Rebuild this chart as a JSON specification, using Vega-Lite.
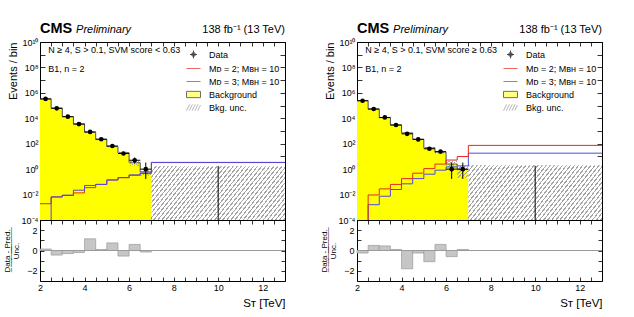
{
"$schema": "https://vega.github.io/schema/vega-lite/v6.json",
"padding": {"left": 3, "top": 20, "right": 5, "bottom": 5},
"background": "white",
"datasets": {
"L": [
{"x0":2,"x1":2.5,"c":2.25,"data":335000,"dlo":334400,"dhi":335600,"bkg":330000,"ulo":300000,"uhi":360000,"sig2":0.0019,"sig3":0.000001,"pull":0.15},
{"x0":2.5,"x1":3,"c":2.75,"data":61000,"dlo":60750,"dhi":61250,"bkg":63000,"ulo":57500,"uhi":68500,"sig2":0.0065,"sig3":0.0065,"pull":-0.45},
{"x0":3,"x1":3.5,"c":3.25,"data":13300,"dlo":13185,"dhi":13415,"bkg":13700,"ulo":12400,"uhi":15000,"sig2":0.0085,"sig3":0.009,"pull":-0.3},
{"x0":3.5,"x1":4,"c":3.75,"data":3500,"dlo":3441,"dhi":3559,"bkg":3600,"ulo":3100,"uhi":4100,"sig2":0.0135,"sig3":0.022,"pull":-0.2},
{"x0":4,"x1":4.5,"c":4.25,"data":850,"dlo":821,"dhi":879,"bkg":790,"ulo":740,"uhi":840,"sig2":0.035,"sig3":0.052,"pull":1.15},
{"x0":4.5,"x1":5,"c":4.75,"data":225,"dlo":210,"dhi":240,"bkg":222,"ulo":190,"uhi":254,"sig2":0.063,"sig3":0.063,"pull":0.1},
{"x0":5,"x1":5.5,"c":5.25,"data":66,"dlo":58,"dhi":74,"bkg":60,"ulo":52,"uhi":68,"sig2":0.14,"sig3":0.14,"pull":0.75},
{"x0":5.5,"x1":6,"c":5.75,"data":17,"dlo":13,"dhi":21.5,"bkg":19.5,"ulo":15,"uhi":24,"sig2":0.21,"sig3":0.22,"pull":-0.55},
{"x0":6,"x1":6.5,"c":6.25,"data":5,"dlo":2.8,"dhi":8.4,"bkg":3.2,"ulo":1.8,"uhi":5,"sig2":0.33,"sig3":0.35,"pull":0.6},
{"x0":6.5,"x1":7,"c":6.75,"data":1,"dlo":0.17,"dhi":3.3,"bkg":0.62,"ulo":0.3,"uhi":0.8,"sig2":0.45,"sig3":0.5,"pull":-0.15},
{"x0":7,"x1":13,"c":10,"data":0,"dlo":0.00001,"dhi":1.8,"bkg":0,"ulo":0.00001,"uhi":1.7,"sig2":3.3,"sig3":3.4,"pull":0}
],
"R": [
{"x0":2,"x1":2.5,"c":2.25,"data":240000,"dlo":239500,"dhi":240500,"bkg":245000,"ulo":220000,"uhi":270000,"sig2":0.000001,"sig3":0.000001,"pull":-0.25},
{"x0":2.5,"x1":3,"c":2.75,"data":54000,"dlo":53770,"dhi":54230,"bkg":52000,"ulo":48000,"uhi":56000,"sig2":0.0093,"sig3":0.0016,"pull":0.5},
{"x0":3,"x1":3.5,"c":3.25,"data":11600,"dlo":11490,"dhi":11710,"bkg":11200,"ulo":10300,"uhi":12100,"sig2":0.028,"sig3":0.0074,"pull":0.45},
{"x0":3.5,"x1":4,"c":3.75,"data":2980,"dlo":2925,"dhi":3035,"bkg":2950,"ulo":2650,"uhi":3250,"sig2":0.063,"sig3":0.025,"pull":0.1},
{"x0":4,"x1":4.5,"c":4.25,"data":600,"dlo":575,"dhi":625,"bkg":710,"ulo":650,"uhi":770,"sig2":0.18,"sig3":0.07,"pull":-1.8},
{"x0":4.5,"x1":5,"c":4.75,"data":218,"dlo":203,"dhi":233,"bkg":224,"ulo":200,"uhi":248,"sig2":0.48,"sig3":0.18,"pull":-0.25},
{"x0":5,"x1":5.5,"c":5.25,"data":40,"dlo":34,"dhi":47,"bkg":48,"ulo":41,"uhi":55,"sig2":1.1,"sig3":0.4,"pull":-1.1},
{"x0":5.5,"x1":6,"c":5.75,"data":24,"dlo":19,"dhi":29,"bkg":21,"ulo":17,"uhi":25,"sig2":2.5,"sig3":0.83,"pull":0.6},
{"x0":6,"x1":6.5,"c":6.25,"data":1,"dlo":0.17,"dhi":3.3,"bkg":2.5,"ulo":1.35,"uhi":4.7,"sig2":5.2,"sig3":1.5,"pull":-0.6},
{"x0":6.5,"x1":7,"c":6.75,"data":1,"dlo":0.17,"dhi":3.3,"bkg":0.95,"ulo":0.21,"uhi":1.85,"sig2":9.8,"sig3":1.8,"pull":0.1},
{"x0":7,"x1":13,"c":10,"data":0,"dlo":0.00001,"dhi":1.8,"bkg":0,"ulo":0.00001,"uhi":2.0,"sig2":74,"sig3":18,"pull":0}
]
},
"spacing": 34,
"resolve": {"scale": {"fill": "independent", "stroke": "independent", "shape": "independent"}},
"hconcat": [
{
"spacing": 0,
"bounds": "flush",
"resolve": {"scale": {"fill": "independent", "stroke": "independent", "shape": "independent"}},
"vconcat": [
{
"width": 245, "height": 178,
"data": {"name": "L"},
"resolve": {"axis": {"x": "independent", "y": "independent"}},
"layer": [
{"transform": [{"filter": "datum.bkg > 0"}, {"fold": ["x0", "x1"], "as": ["edge", "ex"]}],
 "mark": {"type": "area", "color": "#ffff00", "clip": true},
 "encoding": {
  "x": {"field": "ex", "type": "quantitative", "scale": {"domain": [2, 13], "nice": false, "zero": false},
        "axis": {"orient": "bottom", "values": [2,2.5,3,3.5,4,4.5,5,5.5,6,6.5,7,7.5,8,8.5,9,9.5,10,10.5,11,11.5,12,12.5,13], "labels": false, "tickSize": -4, "title": null}},
  "y": {"field": "bkg", "type": "quantitative", "scale": {"type": "log", "domain": [0.0001, 10000000000], "nice": false},
        "axis": {"orient": "left", "values": [0.0001,0.001,0.01,0.1,1,10,100,1000,10000,100000,1000000,10000000,100000000,1000000000,10000000000], "tickSize": -5, "labelPadding": 7, "labelFontSize": 9,
                 "labelExpr": "['10⁻⁴','','10⁻²','','10⁰','','10²','','10⁴','','10⁶','','10⁸','','10¹⁰'][round(log(datum.value)/LN10)+4]",
                 "title": "Events / bin", "titleAnchor": "end", "titleFontSize": 11, "titlePadding": 3}},
  "y2": {"datum": 0.0001}}},
{"transform": [{"filter": "datum.bkg > 0"}, {"fold": ["x0", "x1"], "as": ["edge", "ex"]}],
 "mark": {"type": "line", "color": "#4d4d4d", "strokeWidth": 1, "clip": true},
 "encoding": {
  "x": {"field": "ex", "type": "quantitative", "axis": {"orient": "top", "values": [2,2.5,3,3.5,4,4.5,5,5.5,6,6.5,7,7.5,8,8.5,9,9.5,10,10.5,11,11.5,12,12.5,13], "labels": false, "tickSize": -4, "title": null}},
  "y": {"field": "bkg", "type": "quantitative", "axis": {"orient": "right", "values": [0.0001,0.001,0.01,0.1,1,10,100,1000,10000,100000,1000000,10000000,100000000,1000000000,10000000000], "labels": false, "tickSize": -5, "title": null}},
  "order": {"value": null}}},
{"transform": [{"filter": "datum.x1 <= 7"}],
 "mark": {"type": "rect", "clip": true, "fill": {"gradient": "linear", "x1": 0, "y1": 0, "x2": 1, "y2": 1, "stops": [
{"offset":0,"color":"#a5a5a5"},{"offset":0.055,"color":"#a5a5a5"},{"offset":0.055,"color":"rgba(255,255,255,0)"},{"offset":0.1667,"color":"rgba(255,255,255,0)"},
{"offset":0.1667,"color":"#a5a5a5"},{"offset":0.2217,"color":"#a5a5a5"},{"offset":0.2217,"color":"rgba(255,255,255,0)"},{"offset":0.3333,"color":"rgba(255,255,255,0)"},
{"offset":0.3333,"color":"#a5a5a5"},{"offset":0.3883,"color":"#a5a5a5"},{"offset":0.3883,"color":"rgba(255,255,255,0)"},{"offset":0.5,"color":"rgba(255,255,255,0)"},
{"offset":0.5,"color":"#a5a5a5"},{"offset":0.555,"color":"#a5a5a5"},{"offset":0.555,"color":"rgba(255,255,255,0)"},{"offset":0.6667,"color":"rgba(255,255,255,0)"},
{"offset":0.6667,"color":"#a5a5a5"},{"offset":0.7217,"color":"#a5a5a5"},{"offset":0.7217,"color":"rgba(255,255,255,0)"},{"offset":0.8333,"color":"rgba(255,255,255,0)"},
{"offset":0.8333,"color":"#a5a5a5"},{"offset":0.8883,"color":"#a5a5a5"},{"offset":0.8883,"color":"rgba(255,255,255,0)"},{"offset":1,"color":"rgba(255,255,255,0)"}]}},
 "encoding": {"x": {"field": "x0", "type": "quantitative", "axis": null}, "x2": {"field": "x1"}, "y": {"field": "ulo", "type": "quantitative", "axis": null}, "y2": {"field": "uhi"}}},
{"transform": [{"filter": "datum.x0 >= 7"}],
 "mark": {"type": "rect", "clip": true, "fill": {"gradient": "linear", "x1": 0, "y1": 0, "x2": 1.207, "y2": 0.48, "stops": [
{"offset":0,"color":"#a5a5a5"},{"offset":0.0072,"color":"#a5a5a5"},{"offset":0.0072,"color":"#ffffff"},{"offset":0.0217,"color":"#ffffff"},
{"offset":0.0217,"color":"#a5a5a5"},{"offset":0.0289,"color":"#a5a5a5"},{"offset":0.0289,"color":"#ffffff"},{"offset":0.0435,"color":"#ffffff"},
{"offset":0.0435,"color":"#a5a5a5"},{"offset":0.0507,"color":"#a5a5a5"},{"offset":0.0507,"color":"#ffffff"},{"offset":0.0652,"color":"#ffffff"},
{"offset":0.0652,"color":"#a5a5a5"},{"offset":0.0724,"color":"#a5a5a5"},{"offset":0.0724,"color":"#ffffff"},{"offset":0.087,"color":"#ffffff"},
{"offset":0.087,"color":"#a5a5a5"},{"offset":0.0942,"color":"#a5a5a5"},{"offset":0.0942,"color":"#ffffff"},{"offset":0.1087,"color":"#ffffff"},
{"offset":0.1087,"color":"#a5a5a5"},{"offset":0.1159,"color":"#a5a5a5"},{"offset":0.1159,"color":"#ffffff"},{"offset":0.1304,"color":"#ffffff"},
{"offset":0.1304,"color":"#a5a5a5"},{"offset":0.1376,"color":"#a5a5a5"},{"offset":0.1376,"color":"#ffffff"},{"offset":0.1522,"color":"#ffffff"},
{"offset":0.1522,"color":"#a5a5a5"},{"offset":0.1594,"color":"#a5a5a5"},{"offset":0.1594,"color":"#ffffff"},{"offset":0.1739,"color":"#ffffff"},
{"offset":0.1739,"color":"#a5a5a5"},{"offset":0.1811,"color":"#a5a5a5"},{"offset":0.1811,"color":"#ffffff"},{"offset":0.1957,"color":"#ffffff"},
{"offset":0.1957,"color":"#a5a5a5"},{"offset":0.2029,"color":"#a5a5a5"},{"offset":0.2029,"color":"#ffffff"},{"offset":0.2174,"color":"#ffffff"},
{"offset":0.2174,"color":"#a5a5a5"},{"offset":0.2246,"color":"#a5a5a5"},{"offset":0.2246,"color":"#ffffff"},{"offset":0.2391,"color":"#ffffff"},
{"offset":0.2391,"color":"#a5a5a5"},{"offset":0.2463,"color":"#a5a5a5"},{"offset":0.2463,"color":"#ffffff"},{"offset":0.2609,"color":"#ffffff"},
{"offset":0.2609,"color":"#a5a5a5"},{"offset":0.2681,"color":"#a5a5a5"},{"offset":0.2681,"color":"#ffffff"},{"offset":0.2826,"color":"#ffffff"},
{"offset":0.2826,"color":"#a5a5a5"},{"offset":0.2898,"color":"#a5a5a5"},{"offset":0.2898,"color":"#ffffff"},{"offset":0.3043,"color":"#ffffff"},
{"offset":0.3043,"color":"#a5a5a5"},{"offset":0.3115,"color":"#a5a5a5"},{"offset":0.3115,"color":"#ffffff"},{"offset":0.3261,"color":"#ffffff"},
{"offset":0.3261,"color":"#a5a5a5"},{"offset":0.3333,"color":"#a5a5a5"},{"offset":0.3333,"color":"#ffffff"},{"offset":0.3478,"color":"#ffffff"},
{"offset":0.3478,"color":"#a5a5a5"},{"offset":0.355,"color":"#a5a5a5"},{"offset":0.355,"color":"#ffffff"},{"offset":0.3696,"color":"#ffffff"},
{"offset":0.3696,"color":"#a5a5a5"},{"offset":0.3768,"color":"#a5a5a5"},{"offset":0.3768,"color":"#ffffff"},{"offset":0.3913,"color":"#ffffff"},
{"offset":0.3913,"color":"#a5a5a5"},{"offset":0.3985,"color":"#a5a5a5"},{"offset":0.3985,"color":"#ffffff"},{"offset":0.413,"color":"#ffffff"},
{"offset":0.413,"color":"#a5a5a5"},{"offset":0.4202,"color":"#a5a5a5"},{"offset":0.4202,"color":"#ffffff"},{"offset":0.4348,"color":"#ffffff"},
{"offset":0.4348,"color":"#a5a5a5"},{"offset":0.442,"color":"#a5a5a5"},{"offset":0.442,"color":"#ffffff"},{"offset":0.4565,"color":"#ffffff"},
{"offset":0.4565,"color":"#a5a5a5"},{"offset":0.4637,"color":"#a5a5a5"},{"offset":0.4637,"color":"#ffffff"},{"offset":0.4783,"color":"#ffffff"},
{"offset":0.4783,"color":"#a5a5a5"},{"offset":0.4855,"color":"#a5a5a5"},{"offset":0.4855,"color":"#ffffff"},{"offset":0.5,"color":"#ffffff"},
{"offset":0.5,"color":"#a5a5a5"},{"offset":0.5072,"color":"#a5a5a5"},{"offset":0.5072,"color":"#ffffff"},{"offset":0.5217,"color":"#ffffff"},
{"offset":0.5217,"color":"#a5a5a5"},{"offset":0.5289,"color":"#a5a5a5"},{"offset":0.5289,"color":"#ffffff"},{"offset":0.5435,"color":"#ffffff"},
{"offset":0.5435,"color":"#a5a5a5"},{"offset":0.5507,"color":"#a5a5a5"},{"offset":0.5507,"color":"#ffffff"},{"offset":0.5652,"color":"#ffffff"},
{"offset":0.5652,"color":"#a5a5a5"},{"offset":0.5724,"color":"#a5a5a5"},{"offset":0.5724,"color":"#ffffff"},{"offset":0.587,"color":"#ffffff"},
{"offset":0.587,"color":"#a5a5a5"},{"offset":0.5942,"color":"#a5a5a5"},{"offset":0.5942,"color":"#ffffff"},{"offset":0.6087,"color":"#ffffff"},
{"offset":0.6087,"color":"#a5a5a5"},{"offset":0.6159,"color":"#a5a5a5"},{"offset":0.6159,"color":"#ffffff"},{"offset":0.6304,"color":"#ffffff"},
{"offset":0.6304,"color":"#a5a5a5"},{"offset":0.6376,"color":"#a5a5a5"},{"offset":0.6376,"color":"#ffffff"},{"offset":0.6522,"color":"#ffffff"},
{"offset":0.6522,"color":"#a5a5a5"},{"offset":0.6594,"color":"#a5a5a5"},{"offset":0.6594,"color":"#ffffff"},{"offset":0.6739,"color":"#ffffff"},
{"offset":0.6739,"color":"#a5a5a5"},{"offset":0.6811,"color":"#a5a5a5"},{"offset":0.6811,"color":"#ffffff"},{"offset":0.6957,"color":"#ffffff"},
{"offset":0.6957,"color":"#a5a5a5"},{"offset":0.7029,"color":"#a5a5a5"},{"offset":0.7029,"color":"#ffffff"},{"offset":0.7174,"color":"#ffffff"},
{"offset":0.7174,"color":"#a5a5a5"},{"offset":0.7246,"color":"#a5a5a5"},{"offset":0.7246,"color":"#ffffff"},{"offset":0.7391,"color":"#ffffff"},
{"offset":0.7391,"color":"#a5a5a5"},{"offset":0.7463,"color":"#a5a5a5"},{"offset":0.7463,"color":"#ffffff"},{"offset":0.7609,"color":"#ffffff"},
{"offset":0.7609,"color":"#a5a5a5"},{"offset":0.7681,"color":"#a5a5a5"},{"offset":0.7681,"color":"#ffffff"},{"offset":0.7826,"color":"#ffffff"},
{"offset":0.7826,"color":"#a5a5a5"},{"offset":0.7898,"color":"#a5a5a5"},{"offset":0.7898,"color":"#ffffff"},{"offset":0.8043,"color":"#ffffff"},
{"offset":0.8043,"color":"#a5a5a5"},{"offset":0.8115,"color":"#a5a5a5"},{"offset":0.8115,"color":"#ffffff"},{"offset":0.8261,"color":"#ffffff"},
{"offset":0.8261,"color":"#a5a5a5"},{"offset":0.8333,"color":"#a5a5a5"},{"offset":0.8333,"color":"#ffffff"},{"offset":0.8478,"color":"#ffffff"},
{"offset":0.8478,"color":"#a5a5a5"},{"offset":0.855,"color":"#a5a5a5"},{"offset":0.855,"color":"#ffffff"},{"offset":0.8696,"color":"#ffffff"},
{"offset":0.8696,"color":"#a5a5a5"},{"offset":0.8768,"color":"#a5a5a5"},{"offset":0.8768,"color":"#ffffff"},{"offset":0.8913,"color":"#ffffff"},
{"offset":0.8913,"color":"#a5a5a5"},{"offset":0.8985,"color":"#a5a5a5"},{"offset":0.8985,"color":"#ffffff"},{"offset":0.913,"color":"#ffffff"},
{"offset":0.913,"color":"#a5a5a5"},{"offset":0.9202,"color":"#a5a5a5"},{"offset":0.9202,"color":"#ffffff"},{"offset":0.9348,"color":"#ffffff"},
{"offset":0.9348,"color":"#a5a5a5"},{"offset":0.942,"color":"#a5a5a5"},{"offset":0.942,"color":"#ffffff"},{"offset":0.9565,"color":"#ffffff"},
{"offset":0.9565,"color":"#a5a5a5"},{"offset":0.9637,"color":"#a5a5a5"},{"offset":0.9637,"color":"#ffffff"},{"offset":0.9783,"color":"#ffffff"},
{"offset":0.9783,"color":"#a5a5a5"},{"offset":0.9855,"color":"#a5a5a5"},{"offset":0.9855,"color":"#ffffff"},{"offset":1,"color":"#ffffff"}]}},
 "encoding": {"x": {"field": "x0", "type": "quantitative", "axis": null}, "x2": {"field": "x1"}, "y": {"field": "ulo", "type": "quantitative", "axis": null}, "y2": {"field": "uhi"}}},
{"transform": [{"fold": ["x0", "x1"], "as": ["edge", "ex"]}],
 "mark": {"type": "line", "color": "#e8281e", "strokeWidth": 1, "clip": true},
 "encoding": {"x": {"field": "ex", "type": "quantitative", "axis": null}, "y": {"field": "sig2", "type": "quantitative", "axis": null}, "order": {"value": null}}},
{"transform": [{"fold": ["x0", "x1"], "as": ["edge", "ex"]}],
 "mark": {"type": "line", "color": "#4a4ae8", "strokeWidth": 1, "clip": true},
 "encoding": {"x": {"field": "ex", "type": "quantitative", "axis": null}, "y": {"field": "sig3", "type": "quantitative", "axis": null}, "order": {"value": null}}},
{"transform": [{"filter": "datum.data > 0"}],
 "mark": {"type": "rule", "color": "black", "strokeWidth": 1, "clip": true},
 "encoding": {"x": {"field": "x0", "type": "quantitative", "axis": null}, "x2": {"field": "x1"}, "y": {"field": "data", "type": "quantitative", "axis": null}}},
{"mark": {"type": "rule", "color": "black", "strokeWidth": 1, "clip": true},
 "encoding": {"x": {"field": "c", "type": "quantitative", "axis": null}, "y": {"field": "dlo", "type": "quantitative", "axis": null}, "y2": {"field": "dhi"}}},
{"transform": [{"filter": "datum.data > 0"}],
 "mark": {"type": "circle", "color": "black", "size": 22, "opacity": 1},
 "encoding": {"x": {"field": "c", "type": "quantitative", "axis": null}, "y": {"field": "data", "type": "quantitative", "axis": null}}},
{"transform": [{"filter": "false"}],
 "mark": {"type": "point", "filled": true, "strokeWidth": 1},
 "encoding": {
  "shape": {"field": "series", "type": "nominal", "title": null, "scale": {"domain": ["Data", "Mᴅ = 2; Mʙʜ = 10", "Mᴅ = 3; Mʙʜ = 10", "Background", "Bkg. unc."], "range": ["M-0.5,0H0.5M0,-0.55V0.55M0.27,0A0.27,0.27 0 1,1 -0.27,0A0.27,0.27 0 1,1 0.27,0Z", "M-1,0H1", "M-1,0H1", "M-1,-0.45H1V0.45H-1Z", "M-1,0.45L-0.55,-0.45M-0.6,0.45L-0.15,-0.45M-0.2,0.45L0.25,-0.45M0.2,0.45L0.65,-0.45M0.6,0.45L1,-0.35"]}},
  "fill": {"field": "series", "type": "nominal", "title": null, "scale": {"domain": ["Data", "Mᴅ = 2; Mʙʜ = 10", "Mᴅ = 3; Mʙʜ = 10", "Background", "Bkg. unc."], "range": ["black", "transparent", "transparent", "#ffff00", "transparent"]}},
  "stroke": {"field": "series", "type": "nominal", "title": null, "scale": {"domain": ["Data", "Mᴅ = 2; Mʙʜ = 10", "Mᴅ = 3; Mʙʜ = 10", "Background", "Bkg. unc."], "range": ["black", "#e8281e", "#4a4ae8", "#333333", "#999999"]}}}},
{"data": {"values": [{"t": "CMS"}]},
 "mark": {"type": "text", "fontSize": 14.5, "fontWeight": "bold", "align": "left", "baseline": "alphabetic"},
 "encoding": {"x": {"datum": 2, "axis": null}, "y": {"datum": 50000000000, "axis": null}, "text": {"field": "t"}}},
{"data": {"values": [{"t": "Preliminary"}]},
 "mark": {"type": "text", "fontSize": 11, "fontStyle": "italic", "align": "left", "baseline": "alphabetic"},
 "encoding": {"x": {"datum": 3.62, "axis": null}, "y": {"datum": 50000000000, "axis": null}, "text": {"field": "t"}}},
{"data": {"values": [{"t": "138 fb⁻¹ (13 TeV)"}]},
 "mark": {"type": "text", "fontSize": 11, "align": "right", "baseline": "alphabetic"},
 "encoding": {"x": {"datum": 13, "axis": null}, "y": {"datum": 50000000000, "axis": null}, "text": {"field": "t"}}},
{"data": {"values": [{"t": "N ≥ 4, S > 0.1, SVM score < 0.63"}]},
 "mark": {"type": "text", "fontSize": 9, "align": "left", "baseline": "alphabetic"},
 "encoding": {"x": {"datum": 2.37, "axis": null}, "y": {"datum": 1300000000, "axis": null}, "text": {"field": "t"}}},
{"data": {"values": [{"t": "B1, n = 2"}]},
 "mark": {"type": "text", "fontSize": 9, "align": "left", "baseline": "alphabetic"},
 "encoding": {"x": {"datum": 2.37, "axis": null}, "y": {"datum": 45000000, "axis": null}, "text": {"field": "t"}}}
]
},
{
"width": 245, "height": 61,
"data": {"name": "L"},
"resolve": {"axis": {"x": "independent", "y": "independent"}},
"layer": [
{"mark": {"type": "rect", "color": "#c6c6c6", "stroke": "#9a9a9a", "strokeWidth": 0.7},
 "encoding": {
  "x": {"field": "x0", "type": "quantitative", "scale": {"domain": [2, 13], "nice": false, "zero": false},
        "axis": {"orient": "bottom", "values": [2,2.5,3,3.5,4,4.5,5,5.5,6,6.5,7,7.5,8,8.5,9,9.5,10,10.5,11,11.5,12,12.5,13], "tickSize": -4, "labelPadding": 6, "labelFontSize": 9, "labelExpr": "datum.value % 2 == 0 ? format(datum.value, 'd') : ''", "title": "Sᴛ [TeV]", "titleAnchor": "end", "titleFontSize": 11.5, "titlePadding": 5}},
  "x2": {"field": "x1"},
  "y": {"field": "pull", "type": "quantitative", "scale": {"domain": [-3, 3], "nice": false, "zero": false},
        "axis": {"orient": "left", "values": [-2,-1,0,1,2], "tickSize": -4, "labelPadding": 7, "labelFontSize": 9, "labelExpr": "datum.value % 2 == 0 ? datum.label : ''", "title": ["D̲a̲t̲a̲ ̲-̲ ̲P̲r̲e̲d̲.̲", "Unc."], "titleFontSize": 8, "titlePadding": 6, "titleLineHeight": 9}},
  "y2": {"datum": 0}}},
{"mark": {"type": "rule", "color": "#9a9a9a", "strokeWidth": 1},
 "encoding": {"y": {"datum": 0, "type": "quantitative", "axis": {"orient": "right", "values": [-2,-1,0,1,2], "labels": false, "tickSize": -4, "title": null}}}},
{"mark": {"type": "rule", "opacity": 0},
 "encoding": {"x": {"datum": 2, "type": "quantitative", "axis": {"orient": "top", "values": [2,2.5,3,3.5,4,4.5,5,5.5,6,6.5,7,7.5,8,8.5,9,9.5,10,10.5,11,11.5,12,12.5,13], "labels": false, "tickSize": -4, "title": null}}}}
]
}
]
},
{
"spacing": 0,
"bounds": "flush",
"resolve": {"scale": {"fill": "independent", "stroke": "independent", "shape": "independent"}},
"vconcat": [
{
"width": 245, "height": 178,
"data": {"name": "R"},
"resolve": {"axis": {"x": "independent", "y": "independent"}},
"layer": [
{"transform": [{"filter": "datum.bkg > 0"}, {"fold": ["x0", "x1"], "as": ["edge", "ex"]}],
 "mark": {"type": "area", "color": "#ffff00", "clip": true},
 "encoding": {
  "x": {"field": "ex", "type": "quantitative", "scale": {"domain": [2, 13], "nice": false, "zero": false},
        "axis": {"orient": "bottom", "values": [2,2.5,3,3.5,4,4.5,5,5.5,6,6.5,7,7.5,8,8.5,9,9.5,10,10.5,11,11.5,12,12.5,13], "labels": false, "tickSize": -4, "title": null}},
  "y": {"field": "bkg", "type": "quantitative", "scale": {"type": "log", "domain": [0.0001, 10000000000], "nice": false},
        "axis": {"orient": "left", "values": [0.0001,0.001,0.01,0.1,1,10,100,1000,10000,100000,1000000,10000000,100000000,1000000000,10000000000], "tickSize": -5, "labelPadding": 7, "labelFontSize": 9,
                 "labelExpr": "['10⁻⁴','','10⁻²','','10⁰','','10²','','10⁴','','10⁶','','10⁸','','10¹⁰'][round(log(datum.value)/LN10)+4]",
                 "title": "Events / bin", "titleAnchor": "end", "titleFontSize": 11, "titlePadding": 3}},
  "y2": {"datum": 0.0001}}},
{"transform": [{"filter": "datum.bkg > 0"}, {"fold": ["x0", "x1"], "as": ["edge", "ex"]}],
 "mark": {"type": "line", "color": "#4d4d4d", "strokeWidth": 1, "clip": true},
 "encoding": {
  "x": {"field": "ex", "type": "quantitative", "axis": {"orient": "top", "values": [2,2.5,3,3.5,4,4.5,5,5.5,6,6.5,7,7.5,8,8.5,9,9.5,10,10.5,11,11.5,12,12.5,13], "labels": false, "tickSize": -4, "title": null}},
  "y": {"field": "bkg", "type": "quantitative", "axis": {"orient": "right", "values": [0.0001,0.001,0.01,0.1,1,10,100,1000,10000,100000,1000000,10000000,100000000,1000000000,10000000000], "labels": false, "tickSize": -5, "title": null}},
  "order": {"value": null}}},
{"transform": [{"filter": "datum.x1 <= 7"}],
 "mark": {"type": "rect", "clip": true, "fill": {"gradient": "linear", "x1": 0, "y1": 0, "x2": 1, "y2": 1, "stops": [
{"offset":0,"color":"#a5a5a5"},{"offset":0.055,"color":"#a5a5a5"},{"offset":0.055,"color":"rgba(255,255,255,0)"},{"offset":0.1667,"color":"rgba(255,255,255,0)"},
{"offset":0.1667,"color":"#a5a5a5"},{"offset":0.2217,"color":"#a5a5a5"},{"offset":0.2217,"color":"rgba(255,255,255,0)"},{"offset":0.3333,"color":"rgba(255,255,255,0)"},
{"offset":0.3333,"color":"#a5a5a5"},{"offset":0.3883,"color":"#a5a5a5"},{"offset":0.3883,"color":"rgba(255,255,255,0)"},{"offset":0.5,"color":"rgba(255,255,255,0)"},
{"offset":0.5,"color":"#a5a5a5"},{"offset":0.555,"color":"#a5a5a5"},{"offset":0.555,"color":"rgba(255,255,255,0)"},{"offset":0.6667,"color":"rgba(255,255,255,0)"},
{"offset":0.6667,"color":"#a5a5a5"},{"offset":0.7217,"color":"#a5a5a5"},{"offset":0.7217,"color":"rgba(255,255,255,0)"},{"offset":0.8333,"color":"rgba(255,255,255,0)"},
{"offset":0.8333,"color":"#a5a5a5"},{"offset":0.8883,"color":"#a5a5a5"},{"offset":0.8883,"color":"rgba(255,255,255,0)"},{"offset":1,"color":"rgba(255,255,255,0)"}]}},
 "encoding": {"x": {"field": "x0", "type": "quantitative", "axis": null}, "x2": {"field": "x1"}, "y": {"field": "ulo", "type": "quantitative", "axis": null}, "y2": {"field": "uhi"}}},
{"transform": [{"filter": "datum.x0 >= 7"}],
 "mark": {"type": "rect", "clip": true, "fill": {"gradient": "linear", "x1": 0, "y1": 0, "x2": 1.207, "y2": 0.48, "stops": [
{"offset":0,"color":"#a5a5a5"},{"offset":0.0072,"color":"#a5a5a5"},{"offset":0.0072,"color":"#ffffff"},{"offset":0.0217,"color":"#ffffff"},
{"offset":0.0217,"color":"#a5a5a5"},{"offset":0.0289,"color":"#a5a5a5"},{"offset":0.0289,"color":"#ffffff"},{"offset":0.0435,"color":"#ffffff"},
{"offset":0.0435,"color":"#a5a5a5"},{"offset":0.0507,"color":"#a5a5a5"},{"offset":0.0507,"color":"#ffffff"},{"offset":0.0652,"color":"#ffffff"},
{"offset":0.0652,"color":"#a5a5a5"},{"offset":0.0724,"color":"#a5a5a5"},{"offset":0.0724,"color":"#ffffff"},{"offset":0.087,"color":"#ffffff"},
{"offset":0.087,"color":"#a5a5a5"},{"offset":0.0942,"color":"#a5a5a5"},{"offset":0.0942,"color":"#ffffff"},{"offset":0.1087,"color":"#ffffff"},
{"offset":0.1087,"color":"#a5a5a5"},{"offset":0.1159,"color":"#a5a5a5"},{"offset":0.1159,"color":"#ffffff"},{"offset":0.1304,"color":"#ffffff"},
{"offset":0.1304,"color":"#a5a5a5"},{"offset":0.1376,"color":"#a5a5a5"},{"offset":0.1376,"color":"#ffffff"},{"offset":0.1522,"color":"#ffffff"},
{"offset":0.1522,"color":"#a5a5a5"},{"offset":0.1594,"color":"#a5a5a5"},{"offset":0.1594,"color":"#ffffff"},{"offset":0.1739,"color":"#ffffff"},
{"offset":0.1739,"color":"#a5a5a5"},{"offset":0.1811,"color":"#a5a5a5"},{"offset":0.1811,"color":"#ffffff"},{"offset":0.1957,"color":"#ffffff"},
{"offset":0.1957,"color":"#a5a5a5"},{"offset":0.2029,"color":"#a5a5a5"},{"offset":0.2029,"color":"#ffffff"},{"offset":0.2174,"color":"#ffffff"},
{"offset":0.2174,"color":"#a5a5a5"},{"offset":0.2246,"color":"#a5a5a5"},{"offset":0.2246,"color":"#ffffff"},{"offset":0.2391,"color":"#ffffff"},
{"offset":0.2391,"color":"#a5a5a5"},{"offset":0.2463,"color":"#a5a5a5"},{"offset":0.2463,"color":"#ffffff"},{"offset":0.2609,"color":"#ffffff"},
{"offset":0.2609,"color":"#a5a5a5"},{"offset":0.2681,"color":"#a5a5a5"},{"offset":0.2681,"color":"#ffffff"},{"offset":0.2826,"color":"#ffffff"},
{"offset":0.2826,"color":"#a5a5a5"},{"offset":0.2898,"color":"#a5a5a5"},{"offset":0.2898,"color":"#ffffff"},{"offset":0.3043,"color":"#ffffff"},
{"offset":0.3043,"color":"#a5a5a5"},{"offset":0.3115,"color":"#a5a5a5"},{"offset":0.3115,"color":"#ffffff"},{"offset":0.3261,"color":"#ffffff"},
{"offset":0.3261,"color":"#a5a5a5"},{"offset":0.3333,"color":"#a5a5a5"},{"offset":0.3333,"color":"#ffffff"},{"offset":0.3478,"color":"#ffffff"},
{"offset":0.3478,"color":"#a5a5a5"},{"offset":0.355,"color":"#a5a5a5"},{"offset":0.355,"color":"#ffffff"},{"offset":0.3696,"color":"#ffffff"},
{"offset":0.3696,"color":"#a5a5a5"},{"offset":0.3768,"color":"#a5a5a5"},{"offset":0.3768,"color":"#ffffff"},{"offset":0.3913,"color":"#ffffff"},
{"offset":0.3913,"color":"#a5a5a5"},{"offset":0.3985,"color":"#a5a5a5"},{"offset":0.3985,"color":"#ffffff"},{"offset":0.413,"color":"#ffffff"},
{"offset":0.413,"color":"#a5a5a5"},{"offset":0.4202,"color":"#a5a5a5"},{"offset":0.4202,"color":"#ffffff"},{"offset":0.4348,"color":"#ffffff"},
{"offset":0.4348,"color":"#a5a5a5"},{"offset":0.442,"color":"#a5a5a5"},{"offset":0.442,"color":"#ffffff"},{"offset":0.4565,"color":"#ffffff"},
{"offset":0.4565,"color":"#a5a5a5"},{"offset":0.4637,"color":"#a5a5a5"},{"offset":0.4637,"color":"#ffffff"},{"offset":0.4783,"color":"#ffffff"},
{"offset":0.4783,"color":"#a5a5a5"},{"offset":0.4855,"color":"#a5a5a5"},{"offset":0.4855,"color":"#ffffff"},{"offset":0.5,"color":"#ffffff"},
{"offset":0.5,"color":"#a5a5a5"},{"offset":0.5072,"color":"#a5a5a5"},{"offset":0.5072,"color":"#ffffff"},{"offset":0.5217,"color":"#ffffff"},
{"offset":0.5217,"color":"#a5a5a5"},{"offset":0.5289,"color":"#a5a5a5"},{"offset":0.5289,"color":"#ffffff"},{"offset":0.5435,"color":"#ffffff"},
{"offset":0.5435,"color":"#a5a5a5"},{"offset":0.5507,"color":"#a5a5a5"},{"offset":0.5507,"color":"#ffffff"},{"offset":0.5652,"color":"#ffffff"},
{"offset":0.5652,"color":"#a5a5a5"},{"offset":0.5724,"color":"#a5a5a5"},{"offset":0.5724,"color":"#ffffff"},{"offset":0.587,"color":"#ffffff"},
{"offset":0.587,"color":"#a5a5a5"},{"offset":0.5942,"color":"#a5a5a5"},{"offset":0.5942,"color":"#ffffff"},{"offset":0.6087,"color":"#ffffff"},
{"offset":0.6087,"color":"#a5a5a5"},{"offset":0.6159,"color":"#a5a5a5"},{"offset":0.6159,"color":"#ffffff"},{"offset":0.6304,"color":"#ffffff"},
{"offset":0.6304,"color":"#a5a5a5"},{"offset":0.6376,"color":"#a5a5a5"},{"offset":0.6376,"color":"#ffffff"},{"offset":0.6522,"color":"#ffffff"},
{"offset":0.6522,"color":"#a5a5a5"},{"offset":0.6594,"color":"#a5a5a5"},{"offset":0.6594,"color":"#ffffff"},{"offset":0.6739,"color":"#ffffff"},
{"offset":0.6739,"color":"#a5a5a5"},{"offset":0.6811,"color":"#a5a5a5"},{"offset":0.6811,"color":"#ffffff"},{"offset":0.6957,"color":"#ffffff"},
{"offset":0.6957,"color":"#a5a5a5"},{"offset":0.7029,"color":"#a5a5a5"},{"offset":0.7029,"color":"#ffffff"},{"offset":0.7174,"color":"#ffffff"},
{"offset":0.7174,"color":"#a5a5a5"},{"offset":0.7246,"color":"#a5a5a5"},{"offset":0.7246,"color":"#ffffff"},{"offset":0.7391,"color":"#ffffff"},
{"offset":0.7391,"color":"#a5a5a5"},{"offset":0.7463,"color":"#a5a5a5"},{"offset":0.7463,"color":"#ffffff"},{"offset":0.7609,"color":"#ffffff"},
{"offset":0.7609,"color":"#a5a5a5"},{"offset":0.7681,"color":"#a5a5a5"},{"offset":0.7681,"color":"#ffffff"},{"offset":0.7826,"color":"#ffffff"},
{"offset":0.7826,"color":"#a5a5a5"},{"offset":0.7898,"color":"#a5a5a5"},{"offset":0.7898,"color":"#ffffff"},{"offset":0.8043,"color":"#ffffff"},
{"offset":0.8043,"color":"#a5a5a5"},{"offset":0.8115,"color":"#a5a5a5"},{"offset":0.8115,"color":"#ffffff"},{"offset":0.8261,"color":"#ffffff"},
{"offset":0.8261,"color":"#a5a5a5"},{"offset":0.8333,"color":"#a5a5a5"},{"offset":0.8333,"color":"#ffffff"},{"offset":0.8478,"color":"#ffffff"},
{"offset":0.8478,"color":"#a5a5a5"},{"offset":0.855,"color":"#a5a5a5"},{"offset":0.855,"color":"#ffffff"},{"offset":0.8696,"color":"#ffffff"},
{"offset":0.8696,"color":"#a5a5a5"},{"offset":0.8768,"color":"#a5a5a5"},{"offset":0.8768,"color":"#ffffff"},{"offset":0.8913,"color":"#ffffff"},
{"offset":0.8913,"color":"#a5a5a5"},{"offset":0.8985,"color":"#a5a5a5"},{"offset":0.8985,"color":"#ffffff"},{"offset":0.913,"color":"#ffffff"},
{"offset":0.913,"color":"#a5a5a5"},{"offset":0.9202,"color":"#a5a5a5"},{"offset":0.9202,"color":"#ffffff"},{"offset":0.9348,"color":"#ffffff"},
{"offset":0.9348,"color":"#a5a5a5"},{"offset":0.942,"color":"#a5a5a5"},{"offset":0.942,"color":"#ffffff"},{"offset":0.9565,"color":"#ffffff"},
{"offset":0.9565,"color":"#a5a5a5"},{"offset":0.9637,"color":"#a5a5a5"},{"offset":0.9637,"color":"#ffffff"},{"offset":0.9783,"color":"#ffffff"},
{"offset":0.9783,"color":"#a5a5a5"},{"offset":0.9855,"color":"#a5a5a5"},{"offset":0.9855,"color":"#ffffff"},{"offset":1,"color":"#ffffff"}]}},
 "encoding": {"x": {"field": "x0", "type": "quantitative", "axis": null}, "x2": {"field": "x1"}, "y": {"field": "ulo", "type": "quantitative", "axis": null}, "y2": {"field": "uhi"}}},
{"transform": [{"fold": ["x0", "x1"], "as": ["edge", "ex"]}],
 "mark": {"type": "line", "color": "#4a4ae8", "strokeWidth": 1, "clip": true},
 "encoding": {"x": {"field": "ex", "type": "quantitative", "axis": null}, "y": {"field": "sig3", "type": "quantitative", "axis": null}, "order": {"value": null}}},
{"transform": [{"fold": ["x0", "x1"], "as": ["edge", "ex"]}],
 "mark": {"type": "line", "color": "#e8281e", "strokeWidth": 1, "clip": true},
 "encoding": {"x": {"field": "ex", "type": "quantitative", "axis": null}, "y": {"field": "sig2", "type": "quantitative", "axis": null}, "order": {"value": null}}},
{"transform": [{"filter": "datum.data > 0"}],
 "mark": {"type": "rule", "color": "black", "strokeWidth": 1, "clip": true},
 "encoding": {"x": {"field": "x0", "type": "quantitative", "axis": null}, "x2": {"field": "x1"}, "y": {"field": "data", "type": "quantitative", "axis": null}}},
{"mark": {"type": "rule", "color": "black", "strokeWidth": 1, "clip": true},
 "encoding": {"x": {"field": "c", "type": "quantitative", "axis": null}, "y": {"field": "dlo", "type": "quantitative", "axis": null}, "y2": {"field": "dhi"}}},
{"transform": [{"filter": "datum.data > 0"}],
 "mark": {"type": "circle", "color": "black", "size": 22, "opacity": 1},
 "encoding": {"x": {"field": "c", "type": "quantitative", "axis": null}, "y": {"field": "data", "type": "quantitative", "axis": null}}},
{"transform": [{"filter": "false"}],
 "mark": {"type": "point", "filled": true, "strokeWidth": 1},
 "encoding": {
  "shape": {"field": "series", "type": "nominal", "title": null, "scale": {"domain": ["Data", "Mᴅ = 2; Mʙʜ = 10", "Mᴅ = 3; Mʙʜ = 10", "Background", "Bkg. unc."], "range": ["M-0.5,0H0.5M0,-0.55V0.55M0.27,0A0.27,0.27 0 1,1 -0.27,0A0.27,0.27 0 1,1 0.27,0Z", "M-1,0H1", "M-1,0H1", "M-1,-0.45H1V0.45H-1Z", "M-1,0.45L-0.55,-0.45M-0.6,0.45L-0.15,-0.45M-0.2,0.45L0.25,-0.45M0.2,0.45L0.65,-0.45M0.6,0.45L1,-0.35"]}},
  "fill": {"field": "series", "type": "nominal", "title": null, "scale": {"domain": ["Data", "Mᴅ = 2; Mʙʜ = 10", "Mᴅ = 3; Mʙʜ = 10", "Background", "Bkg. unc."], "range": ["black", "transparent", "transparent", "#ffff00", "transparent"]}},
  "stroke": {"field": "series", "type": "nominal", "title": null, "scale": {"domain": ["Data", "Mᴅ = 2; Mʙʜ = 10", "Mᴅ = 3; Mʙʜ = 10", "Background", "Bkg. unc."], "range": ["black", "#e8281e", "#4a4ae8", "#333333", "#999999"]}}}},
{"data": {"values": [{"t": "CMS"}]},
 "mark": {"type": "text", "fontSize": 14.5, "fontWeight": "bold", "align": "left", "baseline": "alphabetic"},
 "encoding": {"x": {"datum": 2, "axis": null}, "y": {"datum": 50000000000, "axis": null}, "text": {"field": "t"}}},
{"data": {"values": [{"t": "Preliminary"}]},
 "mark": {"type": "text", "fontSize": 11, "fontStyle": "italic", "align": "left", "baseline": "alphabetic"},
 "encoding": {"x": {"datum": 3.62, "axis": null}, "y": {"datum": 50000000000, "axis": null}, "text": {"field": "t"}}},
{"data": {"values": [{"t": "138 fb⁻¹ (13 TeV)"}]},
 "mark": {"type": "text", "fontSize": 11, "align": "right", "baseline": "alphabetic"},
 "encoding": {"x": {"datum": 13, "axis": null}, "y": {"datum": 50000000000, "axis": null}, "text": {"field": "t"}}},
{"data": {"values": [{"t": "N ≥ 4, S > 0.1, SVM score ≥ 0.63"}]},
 "mark": {"type": "text", "fontSize": 9, "align": "left", "baseline": "alphabetic"},
 "encoding": {"x": {"datum": 2.37, "axis": null}, "y": {"datum": 1300000000, "axis": null}, "text": {"field": "t"}}},
{"data": {"values": [{"t": "B1, n = 2"}]},
 "mark": {"type": "text", "fontSize": 9, "align": "left", "baseline": "alphabetic"},
 "encoding": {"x": {"datum": 2.37, "axis": null}, "y": {"datum": 45000000, "axis": null}, "text": {"field": "t"}}}
]
},
{
"width": 245, "height": 61,
"data": {"name": "R"},
"resolve": {"axis": {"x": "independent", "y": "independent"}},
"layer": [
{"mark": {"type": "rect", "color": "#c6c6c6", "stroke": "#9a9a9a", "strokeWidth": 0.7},
 "encoding": {
  "x": {"field": "x0", "type": "quantitative", "scale": {"domain": [2, 13], "nice": false, "zero": false},
        "axis": {"orient": "bottom", "values": [2,2.5,3,3.5,4,4.5,5,5.5,6,6.5,7,7.5,8,8.5,9,9.5,10,10.5,11,11.5,12,12.5,13], "tickSize": -4, "labelPadding": 6, "labelFontSize": 9, "labelExpr": "datum.value % 2 == 0 ? format(datum.value, 'd') : ''", "title": "Sᴛ [TeV]", "titleAnchor": "end", "titleFontSize": 11.5, "titlePadding": 5}},
  "x2": {"field": "x1"},
  "y": {"field": "pull", "type": "quantitative", "scale": {"domain": [-3, 3], "nice": false, "zero": false},
        "axis": {"orient": "left", "values": [-2,-1,0,1,2], "tickSize": -4, "labelPadding": 7, "labelFontSize": 9, "labelExpr": "datum.value % 2 == 0 ? datum.label : ''", "title": ["D̲a̲t̲a̲ ̲-̲ ̲P̲r̲e̲d̲.̲", "Unc."], "titleFontSize": 8, "titlePadding": 6, "titleLineHeight": 9}},
  "y2": {"datum": 0}}},
{"mark": {"type": "rule", "color": "#9a9a9a", "strokeWidth": 1},
 "encoding": {"y": {"datum": 0, "type": "quantitative", "axis": {"orient": "right", "values": [-2,-1,0,1,2], "labels": false, "tickSize": -4, "title": null}}}},
{"mark": {"type": "rule", "opacity": 0},
 "encoding": {"x": {"datum": 2, "type": "quantitative", "axis": {"orient": "top", "values": [2,2.5,3,3.5,4,4.5,5,5.5,6,6.5,7,7.5,8,8.5,9,9.5,10,10.5,11,11.5,12,12.5,13], "labels": false, "tickSize": -4, "title": null}}}}
]
}
]
}
],
"config": {
"font": "Liberation Sans",
"view": {"stroke": "black", "strokeWidth": 1},
"axis": {"grid": false, "domain": false, "tickColor": "black", "tickWidth": 0.8, "labelColor": "black", "titleColor": "black", "labelFlush": false, "labelOverlap": false, "titleFontWeight": "normal", "labelFont": "Liberation Sans", "titleFont": "Liberation Sans"},
"legend": {"orient": "top-right", "offset": 5, "padding": 0, "rowPadding": 0, "symbolSize": 196, "symbolStrokeWidth": 1, "labelFontSize": 9, "labelFont": "Liberation Sans", "labelOffset": 8, "labelLimit": 300, "labelColor": "black"}
}
}
